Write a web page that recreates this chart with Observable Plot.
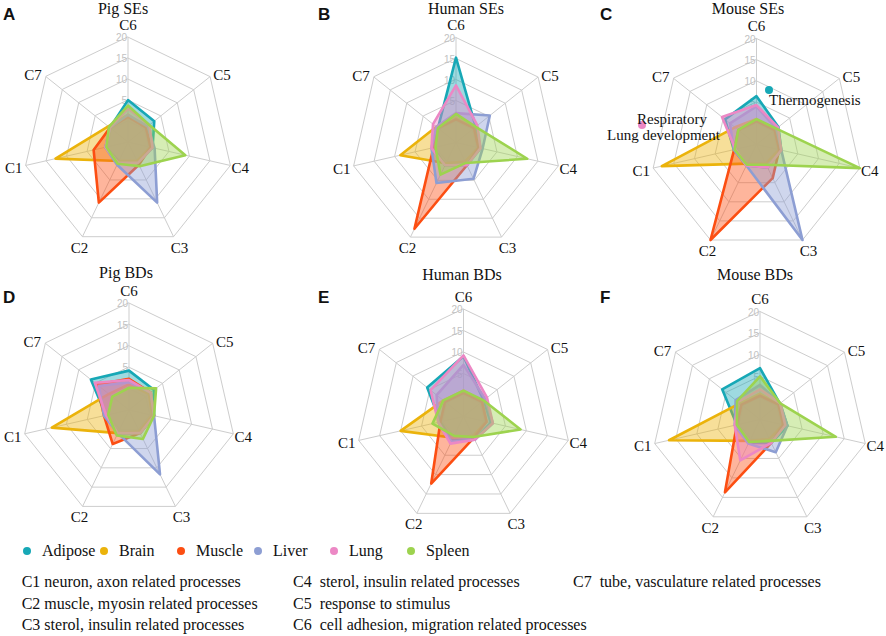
<!DOCTYPE html>
<html><head><meta charset="utf-8">
<script src="https://cdn.jsdelivr.net/npm/d3@7"></script>
<script src="https://cdn.jsdelivr.net/npm/@observablehq/plot@0.6"></script>
<style>
body{margin:0;background:#fff;}
#page{position:relative;width:886px;height:636px;font-family:"Liberation Serif","DejaVu Serif",serif;color:#111;overflow:hidden;background:#fff}
.layer{position:absolute;left:0;top:0}
.title{position:absolute;font-size:16px;transform:translate(-50%,-50%);white-space:nowrap}
.letter{position:absolute;font-family:"Liberation Sans",Arial,sans-serif;font-weight:bold;font-size:17px;line-height:1}
.note{position:absolute;font-size:15px;white-space:nowrap;line-height:1}
.ndot{position:absolute;width:8px;height:8px;border-radius:50%;transform:translate(-50%,-50%)}
.leg{position:absolute;font-size:16px;white-space:nowrap;transform:translateY(-50%);line-height:1}
.cap{position:absolute;font-size:16px;white-space:pre;transform:translateY(-50%);line-height:1}
</style></head>
<body><div id="page"></div>
<script>
const categories = ["C1","C2","C3","C4","C5","C6","C7"];
const axisOrder = ["C6","C5","C4","C3","C2","C1","C7"]; // clockwise from top
const tissues = ["Adipose","Brain","Muscle","Liver","Lung","Spleen"];
const tissueColors = ["#17a8b6","#ebb30b","#fc4e12","#8d9ed3","#ec88c5","#9dd34f"];
const ringTicks = [0,5,10,15,20];
const tickLabels = [5,10,15,20];
const axisMin = -5, axisMax = 20;
const panelTitles = ["Pig SEs","Human SEs","Mouse SEs","Pig BDs","Human BDs","Mouse BDs"];
const panelLetters = ["A","B","C","D","E","F"];
const captionLines = [
  ["C1 neuron, axon related processes","C4  sterol, insulin related processes","C7  tube, vasculature related processes"],
  ["C2 muscle, myosin related processes","C5  response to stimulus",""],
  ["C3 sterol, insulin related processes","C6  cell adhesion, migration related processes",""]
];
// rows follow `tissues`, columns follow `categories` (C1..C7)
const pigSEs = [
  [0.5,0,0.5,1,3,5,0.5],
  [12.7,0,0,0.5,0.5,1.5,1],
  [3.4,11,1,0.5,0.5,1,0.5],
  [0.5,1,11,1.5,1,1.5,0.5],
  [0.5,0.5,0.5,1,1.5,3,0.5],
  [0.3,0.7,1.4,9,1.5,3.7,0.8]
];
const humanSEs = [
  [0.5,1,1,1,1,15.2,0.5],
  [8.6,0.5,0,0.5,0.5,1,1],
  [0.5,17.8,1,0.5,0.5,0.5,0.5],
  [1,5.7,4.6,1.5,5.3,2,1],
  [1,1,1,1,1.5,8.6,2],
  [0,3.5,0.4,12.4,1,1.8,0.5]
];
const mouseSEs = [
  [0.5,0.5,1,1,1.6,6.4,4.5],
  [17.9,0,0,0.5,0.5,1,1.5],
  [0.4,20,3.8,0.5,0.5,0.5,0.5],
  [0.5,0.5,20,1,1,4,3],
  [0.1,0.5,1,1,1.5,4.3,5.4],
  [0.3,0.3,0.3,20,1,1,0.5]
];
const pigBDs = [
  [0.5,1,1,1,2.5,4.2,6.4],
  [13.5,1,0.5,0.5,1,1,1],
  [1,3.8,1,1,1.5,2.3,4.5],
  [1,1,11.7,1,1.5,1.5,4],
  [0.5,1,1,1,1.5,2,5.2],
  [0,1.6,2.5,1,3.1,0.2,0]
];
const humanBDs = [
  [0.5,1,1,1.5,1,9,5.8],
  [10,0.5,0,0.5,0.5,1,1],
  [0.5,12.3,0.5,0.5,0.5,0.5,0.5],
  [1,1.5,1,2,1.5,7,3],
  [1,2,1,2,2,9.2,4.8],
  [2.4,0,0.3,8.6,1,1,1]
];
const mouseBDs = [
  [0.5,1,1,1.5,0.9,6.9,6.2],
  [16.6,0.5,0,0.5,0.5,1,1],
  [0.5,13.7,1,0.5,0.5,0.5,0.5],
  [1,1.2,3.4,1.5,1,3,2.2],
  [1,5.5,1,1,1,2,1.5],
  [0.5,0.8,0.5,13,1,5,1.8]
];
const panelData = [pigSEs, humanSEs, mouseSEs, pigBDs, humanBDs, mouseBDs];

// layout (pixels)
const layout = [
  {cx:127.5, cy:141.6, R:105, tx:123, ty:8.5, lx:3, ly:6},
  {cx:455.5, cy:142, R:105, tx:466, ty:8.5, lx:318, ly:6},
  {cx:756, cy:144, R:106, tx:748, ty:8.5, lx:600, ly:6},
  {cx:128.5, cy:409.5, R:107, tx:126, ty:273, lx:3, ly:289},
  {cx:463, cy:416, R:107.5, tx:462, ty:275, lx:318, ly:289},
  {cx:759.5, cy:419, R:108, tx:755, ty:275, lx:600, ly:289}
];
const labelOffset = {C6:[0,-12], C5:[12,-1], C4:[10,3], C3:[6,11], C2:[-3,11], C1:[-12,3], C7:[-13,-1]};
const serifStack = '"Liberation Serif", "DejaVu Serif", serif';

const page = document.getElementById("page");
const step = 2*Math.PI/axisOrder.length;
const ang = c => axisOrder.indexOf(c)*step;
const rad = v => Math.min(v, axisMax) - axisMin;
const span = axisMax - axisMin;

panelData.forEach((rows, p) => {
  const L = layout[p];
  const recs = [];
  rows.forEach((vals, i) => vals.forEach((v, j) => recs.push({tissue: tissues[i], cat: categories[j], value: v})));
  const rings = [];
  ringTicks.forEach(t => axisOrder.forEach(c => rings.push({t, cat: c})));
  const marks = [
    Plot.line(rings, {x: d => rad(d.t)*Math.sin(ang(d.cat)), y: d => rad(d.t)*Math.cos(ang(d.cat)), z: "t", curve: "linear-closed", stroke: "#cdcdcd", strokeWidth: 1}),
    Plot.link(axisOrder, {x1: () => 0, y1: () => 0, x2: c => span*Math.sin(ang(c)), y2: c => span*Math.cos(ang(c)), stroke: "#cdcdcd", strokeWidth: 1}),
    Plot.text(tickLabels, {x: () => 0, y: d => rad(d), text: d => String(d), textAnchor: "end", dx: -1, dy: 1, fontSize: 10, fill: "#c2c2c2", fontFamily: "Liberation Sans, Arial, sans-serif"})
  ];
  tissues.forEach((t, i) => {
    const pts = recs.filter(d => d.tissue === t).sort((a, b) => ang(a.cat) - ang(b.cat));
    marks.push(Plot.line(pts, {x: d => rad(d.value)*Math.sin(ang(d.cat)), y: d => rad(d.value)*Math.cos(ang(d.cat)), curve: "linear-closed", fill: tissueColors[i], fillOpacity: 0.42, stroke: tissueColors[i], strokeWidth: 2.6, strokeLinejoin: "round"}));
  });
  axisOrder.forEach(c => {
    marks.push(Plot.text([c], {x: d => span*Math.sin(ang(d)), y: d => span*Math.cos(ang(d)), text: d => d, dx: labelOffset[c][0], dy: labelOffset[c][1], fontSize: 15, fill: "#111", textAnchor: "middle", lineAnchor: "middle", fontFamily: serifStack}));
  });
  const svg = Plot.plot({
    width: 886, height: 540, margin: 0,
    x: {domain: [-span, span], range: [L.cx - L.R, L.cx + L.R]},
    y: {domain: [-span, span], range: [L.cy + L.R, L.cy - L.R]},
    axis: null,
    style: {background: "transparent", fontFamily: serifStack, overflow: "visible"},
    marks
  });
  svg.classList.add("layer");
  page.appendChild(svg);
  const tt = document.createElement("div");
  tt.className = "title"; tt.textContent = panelTitles[p];
  tt.style.left = L.tx + "px"; tt.style.top = L.ty + "px";
  page.appendChild(tt);
  const lt = document.createElement("div");
  lt.className = "letter"; lt.textContent = panelLetters[p];
  lt.style.left = L.lx + "px"; lt.style.top = L.ly + "px";
  page.appendChild(lt);
});

// annotations on panel C
const notes = [
  {text: "Thermogenesis", color: tissueColors[0], dot: [769, 90], pos: [769, 93]},
  {text: "Respiratory", color: tissueColors[4], dot: [642, 125], pos: [637, 112]},
  {text: "Lung development", color: null, dot: null, pos: [607, 128]}
];
notes.forEach(n => {
  if (n.dot) {
    const d = document.createElement("div");
    d.className = "ndot"; d.style.background = n.color;
    d.style.left = n.dot[0] + "px"; d.style.top = n.dot[1] + "px";
    page.appendChild(d);
  }
  const t = document.createElement("div");
  t.className = "note"; t.textContent = n.text;
  t.style.left = n.pos[0] + "px"; t.style.top = n.pos[1] + "px";
  page.appendChild(t);
});

// legend
const legendX = [27, 104, 181, 258, 334, 411];
tissues.forEach((t, i) => {
  const d = document.createElement("div");
  d.className = "ndot"; d.style.background = tissueColors[i];
  d.style.left = legendX[i] + "px"; d.style.top = "551px";
  page.appendChild(d);
  const s = document.createElement("div");
  s.className = "leg"; s.textContent = t;
  s.style.left = (legendX[i] + 15) + "px"; s.style.top = "551px";
  page.appendChild(s);
});

// caption
const capX = [21.7, 293, 573];
const capY = [582, 604, 625];
captionLines.forEach((line, r) => line.forEach((txt, c) => {
  if (!txt) return;
  const s = document.createElement("div");
  s.className = "cap"; s.textContent = txt;
  s.style.left = capX[c] + "px"; s.style.top = capY[r] + "px";
  page.appendChild(s);
}));
</script>
</body></html>
